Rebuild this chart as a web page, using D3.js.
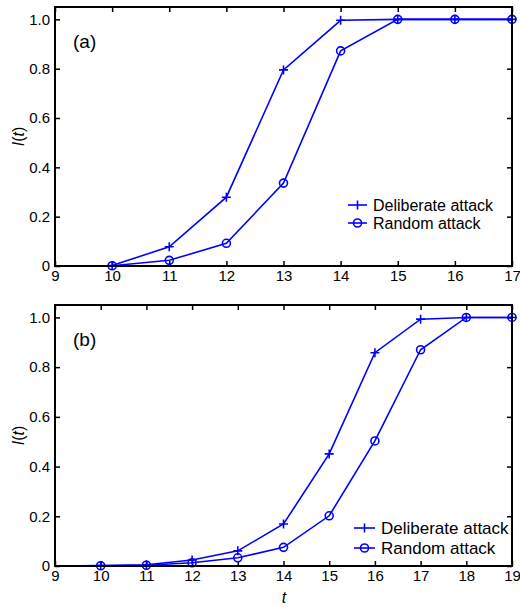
<html lang="en">
<head>
  <meta charset="UTF-8">
  <title>I(t) attack</title>
  <script src="https://cdn.jsdelivr.net/npm/d3@7/dist/d3.min.js"></script>
  <style>
    body { margin: 0; background: #fff; }
    text { font-family: Arial, "Liberation Sans", sans-serif; fill: #000; }
  </style>
</head>
<body>
  <script>
    // data
    var tA = [9, 10, 11, 12, 13, 14, 15, 16, 17];
    var deliberateA = [0, 0.002, 0.078, 0.279, 0.795, 0.996, 1, 1, 1];
    var randomA = [0, 0.001, 0.023, 0.092, 0.336, 0.872, 1, 1, 1];

    var tB = [9, 10, 11, 12, 13, 14, 15, 16, 17, 18, 19];
    var deliberateB = [0, 0.002, 0.005, 0.024, 0.061, 0.169, 0.451, 0.858, 0.993, 1, 1];
    var randomB = [0, 0.001, 0.003, 0.013, 0.033, 0.075, 0.202, 0.503, 0.870, 1, 1];

    var yTicks = [0, 0.2, 0.4, 0.6, 0.8, 1.0];
    var seriesNames = ["Deliberate attack", "Random attack"];
    var blue = "#0000ff";

    var svg = d3.select("body").append("svg").attr("width", 520).attr("height", 607);

    function drawPanel(cfg) {
      var x = d3.scaleLinear().domain(d3.extent(cfg.t)).range([cfg.left, cfg.right]);
      var y = d3.scaleLinear().domain([0, 1.05]).range([cfg.bottom, cfg.top]);
      var g = svg.append("g");

      // axes with inward ticks
      var yFmt = function(d) { return d === 0 ? "0" : d3.format(".1f")(d); };
      var ax = g.append("g").attr("transform", "translate(0," + cfg.bottom + ")")
        .call(d3.axisBottom(x).tickValues(cfg.t).tickSizeInner(-5).tickSizeOuter(0).tickPadding(4));
      var ay = g.append("g").attr("transform", "translate(" + cfg.left + ",0)")
        .call(d3.axisLeft(y).tickValues(yTicks).tickFormat(yFmt).tickSizeInner(-5).tickSizeOuter(0).tickPadding(5));
      var at = g.append("g").attr("transform", "translate(0," + cfg.top + ")")
        .call(d3.axisTop(x).tickValues(cfg.t).tickFormat("").tickSizeInner(-5).tickSizeOuter(0));
      var ar = g.append("g").attr("transform", "translate(" + cfg.right + ",0)")
        .call(d3.axisRight(y).tickValues(yTicks).tickFormat("").tickSizeInner(-5).tickSizeOuter(0));
      [ax, ay, at, ar].forEach(function(a) {
        a.select(".domain").remove();
        a.selectAll(".tick line").attr("stroke", "#000").attr("stroke-width", 1.5);
        a.selectAll(".tick text").style("font-size", cfg.tickFont + "px").attr("fill", "#000");
      });

      var line = d3.line()
        .x(function(d) { return x(d[0]); })
        .y(function(d) { return y(d[1]); });

      var del = cfg.t.map(function(t, i) { return [t, cfg.del[i]]; });
      var ran = cfg.t.map(function(t, i) { return [t, cfg.ran[i]]; });

      [del, ran].forEach(function(s) {
        g.append("path").attr("d", line(s))
          .attr("fill", "none").attr("stroke", blue).attr("stroke-width", 1.6);
      });

      // markers (first point sits on the axis corner, not marked)
      g.selectAll(".plus").data(del.slice(1)).enter().append("path")
        .attr("d", function(d) {
          var cx = x(d[0]), cy = y(d[1]);
          return "M" + (cx - 4.5) + "," + cy + "H" + (cx + 4.5) + "M" + cx + "," + (cy - 4.5) + "V" + (cy + 4.5);
        })
        .attr("stroke", blue).attr("stroke-width", 1.6).attr("fill", "none");
      g.selectAll(".circ").data(ran.slice(1)).enter().append("circle")
        .attr("cx", function(d) { return x(d[0]); })
        .attr("cy", function(d) { return y(d[1]); })
        .attr("r", 4)
        .attr("stroke", blue).attr("stroke-width", 1.6).attr("fill", "none");

      // frame
      g.append("rect")
        .attr("x", cfg.left).attr("y", cfg.top)
        .attr("width", cfg.right - cfg.left).attr("height", cfg.bottom - cfg.top)
        .attr("fill", "none").attr("stroke", "#000").attr("stroke-width", 2);

      // panel label
      g.append("text").attr("x", cfg.left + 18).attr("y", cfg.top + 41)
        .style("font-size", "19px").text(cfg.label);

      // y label
      var yl = g.append("text")
        .attr("transform", "translate(" + 24 + "," + ((cfg.top + cfg.bottom) / 2) + ") rotate(-90)")
        .attr("text-anchor", "middle").style("font-size", "16px");
      yl.append("tspan").style("font-style", "italic").text("I");
      yl.append("tspan").text("(");
      yl.append("tspan").style("font-style", "italic").text("t");
      yl.append("tspan").text(")");

      // legend
      var lg = g.append("g");
      seriesNames.forEach(function(name, i) {
        var ly = cfg.legY + i * cfg.legGap;
        lg.append("line").attr("x1", cfg.legX).attr("x2", cfg.legX + cfg.legLen)
          .attr("y1", ly).attr("y2", ly).attr("stroke", blue).attr("stroke-width", 1.6);
        var mx = cfg.legX + cfg.legLen / 2;
        if (i === 0) {
          lg.append("line").attr("x1", mx).attr("x2", mx).attr("y1", ly - 4.5).attr("y2", ly + 4.5)
            .attr("stroke", blue).attr("stroke-width", 1.6);
        } else {
          lg.append("circle").attr("cx", mx).attr("cy", ly).attr("r", 4)
            .attr("fill", "none").attr("stroke", blue).attr("stroke-width", 1.6);
        }
        lg.append("text").attr("x", cfg.legX + cfg.legLen + 6).attr("y", ly)
          .attr("dy", "0.36em").style("font-size", cfg.legFont + "px").text(name);
      });
      return g;
    }

    drawPanel({
      t: tA, del: deliberateA, ran: randomA,
      left: 55, right: 512, top: 7, bottom: 266,
      label: "(a)", tickFont: 15,
      legX: 348, legY: 205, legGap: 18, legLen: 19, legFont: 16
    });

    drawPanel({
      t: tB, del: deliberateB, ran: randomB,
      left: 55, right: 512, top: 305, bottom: 566,
      label: "(b)", tickFont: 15,
      legX: 354, legY: 528, legGap: 20, legLen: 21, legFont: 17
    });

    svg.append("text").attr("x", 284).attr("y", 603)
      .attr("text-anchor", "middle").style("font-size", "16px").style("font-style", "italic").text("t");
  </script>
</body>
</html>
